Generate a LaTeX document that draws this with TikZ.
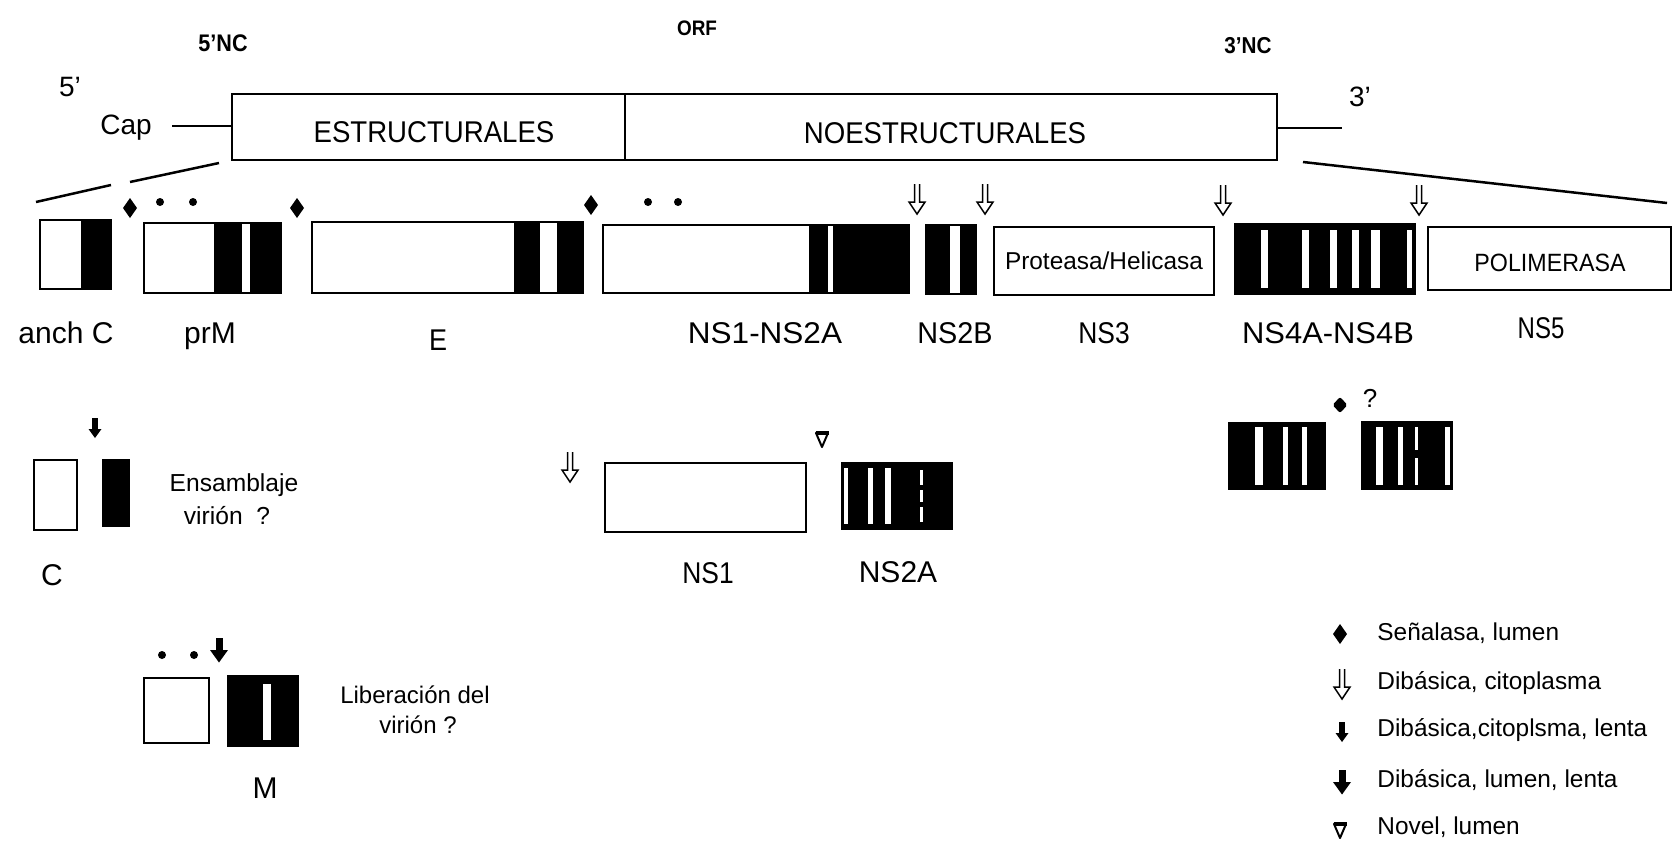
\documentclass[tikz,border=0pt]{standalone}
\usepackage{fontspec}
\usepackage{graphicx}
\setmainfont{Liberation Sans}
\newcommand{\hs}[2]{\scalebox{#1}[1]{#2}}
\newcommand{\fs}[1]{\fontsize{#1}{#1}\selectfont}
\tikzset{
  bx/.style={line width=1.35pt},
  fan/.style={line width=1.25pt},
  tx/.style={inner sep=0pt, text depth=0pt},
  lab/.style={tx, font=\fs{15}},
  sml/.style={tx, font=\fs{12.3}},
  leg/.style={tx, anchor=west, font=\fs{12.2}},
  sig/.pic={\fill (0,-10) -- (7,0) -- (0,10) -- (-7,0) -- cycle;},
  sigr/.pic={\fill[rounded corners=1pt] (0,-8) -- (7.5,0) -- (0,8) -- (-7.5,0) -- cycle;},
  dib/.pic={\draw[line width=0.75pt,line join=miter] (-2.5,-15) -- (-2.5,3) -- (-8,3) -- (0,15) -- (8,3) -- (2.5,3) -- (2.5,-15);},
  ccl/.pic={\fill (-3,-10) rectangle (3,2); \fill (-6.5,1) -- (0,10) -- (6.5,1) -- cycle;},
  lum/.pic={\fill (-3.5,-12.5) rectangle (3.5,1); \fill (-9,0) -- (0,12.5) -- (9,0) -- cycle;},
  nov/.pic={\draw[line width=1pt,line join=round] (-6,-7) -- (6,-7) -- (0,7) -- cycle; \draw[line width=2pt] (-6.5,-7) -- (6.5,-7);},
}
\begin{document}
\begin{tikzpicture}[x=0.5pt,y=-0.5pt]
\useasboundingbox (0,0) rectangle (1679,846);
\fill[white] (0,0) rectangle (1679,846);

% ---------- top genome ----------
\node[tx,font=\fs{12}\bfseries] (nc5) at (223,43) {\hs{0.9}{5'NC}};
\node[tx,font=\fs{10.5}\bfseries] (orf) at (697,28) {\hs{0.9}{ORF}};
\node[tx,font=\fs{11.5}\bfseries] (nc3) at (1248,45) {\hs{0.9}{3'NC}};
\node[tx,font=\fs{14}] (p5) at (70,87) {5'};
\node[tx,font=\fs{14}] (cap) at (126,125) {Cap};
\node[tx,font=\fs{14}] (p3) at (1360,97) {3'};

\draw[bx] (232,94) rectangle (1277,160);
\draw[bx] (625,94) -- (625,160);
\node[tx,font=\fs{15}] (estr) at (434,132) {\hs{0.92}{ESTRUCTURALES}};
\node[tx,font=\fs{15}] (noestr) at (945,133) {\hs{0.92}{NOESTRUCTURALES}};

\coordinate (capE) at (172,126);
\coordinate (boxW) at (232,126);
\coordinate (boxE) at (1277,128);
\coordinate (endE) at (1342,128);
\draw[fan] (capE) -- (boxW);
\draw[fan] (boxE) -- (endE);

% fan lines
\coordinate (fl1) at (219,163);
\coordinate (fl2) at (130,182);
\coordinate (fl3) at (111,185);
\coordinate (fl4) at (36,202);
\coordinate (fr1) at (1303,162);
\coordinate (fr2) at (1667,203);
\draw[fan] (fl1) -- (fl2);
\draw[fan] (fl3) -- (fl4);
\draw[fan] (fr1) -- (fr2);

% ---------- row 2: polyprotein ----------
% anch C
\fill (81,220) rectangle (111,289);
\draw[bx] (40,220) rectangle (111,289);
% prM
\fill (214,223) rectangle (242,293);
\fill (250,223) rectangle (281,293);
\draw[bx] (144,223) rectangle (281,293);
% E
\fill (514,222) rectangle (540,293);
\fill (557,222) rectangle (583,293);
\draw[bx] (312,222) rectangle (583,293);
% NS1-NS2A
\fill (809,225) rectangle (828,293);
\fill (833,225) rectangle (909,293);
\draw[bx] (603,225) rectangle (909,293);
% NS2B
\fill (926,225) rectangle (950,294);
\fill (960,225) rectangle (976,294);
\draw[bx] (926,225) rectangle (976,294);
% NS3
\draw[bx] (994,227) rectangle (1214,295);
\node[tx,font=\fs{12.2}] (prot) at (1104,261) {Proteasa/Helicasa};
% NS4A-NS4B
\fill (1234,223) rectangle (1416,295);
\foreach \a/\b in {1261/1268,1302/1309,1330/1337,1352/1359,1371/1380,1407/1412}
  {\fill[white] (\a,230) rectangle (\b,288);}
% NS5
\draw[bx] (1428,227) rectangle (1671,290);
\node[tx,font=\fs{12.5}] (pol) at (1550,263) {\hs{0.93}{POLIMERASA}};

% cleavage marks row 2
\pic at (130,208) {sig};
\pic at (297,208) {sig};
\pic at (591,205) {sig};
\fill (160,202) circle[radius=2pt];
\fill (193,202) circle[radius=2pt];
\fill (648,202) circle[radius=2pt];
\fill (678,202) circle[radius=2pt];
\pic at (917,199) {dib};
\pic at (985,199) {dib};
\pic at (1223,200) {dib};
\pic at (1419,200) {dib};

% labels row 2
\node[lab] (lanch) at (66,333) {anch C};
\node[lab] (lprm) at (210,333) {prM};
\node[lab] (le) at (438,340) {\hs{0.9}{E}};
\node[lab] (lns12) at (765,333) {\hs{1.05}{NS1-NS2A}};
\node[lab] (lns2b) at (955,333) {\hs{0.96}{NS2B}};
\node[lab] (lns3) at (1104,333) {\hs{0.88}{NS3}};
\node[lab] (lns4) at (1328,333) {\hs{1.03}{NS4A-NS4B}};
\node[lab] (lns5) at (1541,328) {\hs{0.8}{NS5}};

% ---------- row 3 ----------
% C
\pic at (95,428) {ccl};
\draw[bx] (34,460) rectangle (77,530);
\fill (102,459) rectangle (130,527);
\node[sml] (ens1) at (234,483) {Ensamblaje};
\node[sml] (ens2) at (227,515) {virión\ \ ?};
\node[lab] (lc) at (52,575) {C};

% NS1 / NS2A
\pic at (570,467) {dib};
\pic at (822,440) {nov};
\draw[bx] (605,463) rectangle (806,532);
\fill (841,462) rectangle (953,530);
\foreach \a/\b in {844/848,868/873,885/891}
  {\fill[white] (\a,468) rectangle (\b,524);}
\fill[white] (920,470) rectangle (923,485);
\fill[white] (920,490) rectangle (923,502);
\fill[white] (920,507) rectangle (923,522);
\node[lab] (lns1) at (708,573) {\hs{0.88}{NS1}};
\node[lab] (lns2a) at (898,572) {NS2A};

% NS4A / NS4B fragments
\pic at (1340,405) {sigr};
\node[tx,font=\fs{13}] (q) at (1370,398) {?};
\fill (1228,422) rectangle (1326,490);
\foreach \a/\b in {1255/1263,1283/1288,1302/1307}
  {\fill[white] (\a,427) rectangle (\b,485);}
\fill (1361,421) rectangle (1453,490);
\foreach \a/\b in {1376/1383,1398/1403,1445/1450}
  {\fill[white] (\a,427) rectangle (\b,485);}
\fill[white] (1415,427) rectangle (1418,450);
\fill[white] (1415,458) rectangle (1418,485);

% ---------- row 4: M ----------
\fill (162,655) circle[radius=2pt];
\fill (194,655) circle[radius=2pt];
\pic at (219,650) {lum};
\draw[bx] (144,678) rectangle (209,743);
\fill (227,675) rectangle (299,747);
\fill[white] (263,684) rectangle (271,740);
\node[sml,font=\fs{12}] (lib1) at (415,695) {Liberación del};
\node[sml,font=\fs{12}] (lib2) at (418,725) {virión ?};
\node[lab] (lm) at (265,788) {M};

% ---------- legend ----------
\pic at (1340,634) {sig};
\node[leg] (g1) at (1377,632) {Señalasa, lumen};
\pic at (1342,684) {dib};
\node[leg] (g2) at (1377,681) {Dibásica, citoplasma};
\pic at (1342,732) {ccl};
\node[leg] (g3) at (1377,728) {Dibásica,citoplsma, lenta};
\pic at (1342,782) {lum};
\node[leg] (g4) at (1377,779) {Dibásica, lumen, lenta};
\pic at (1340,831) {nov};
\node[leg] (g5) at (1377,826) {Novel, lumen};
\end{tikzpicture}
\end{document}
